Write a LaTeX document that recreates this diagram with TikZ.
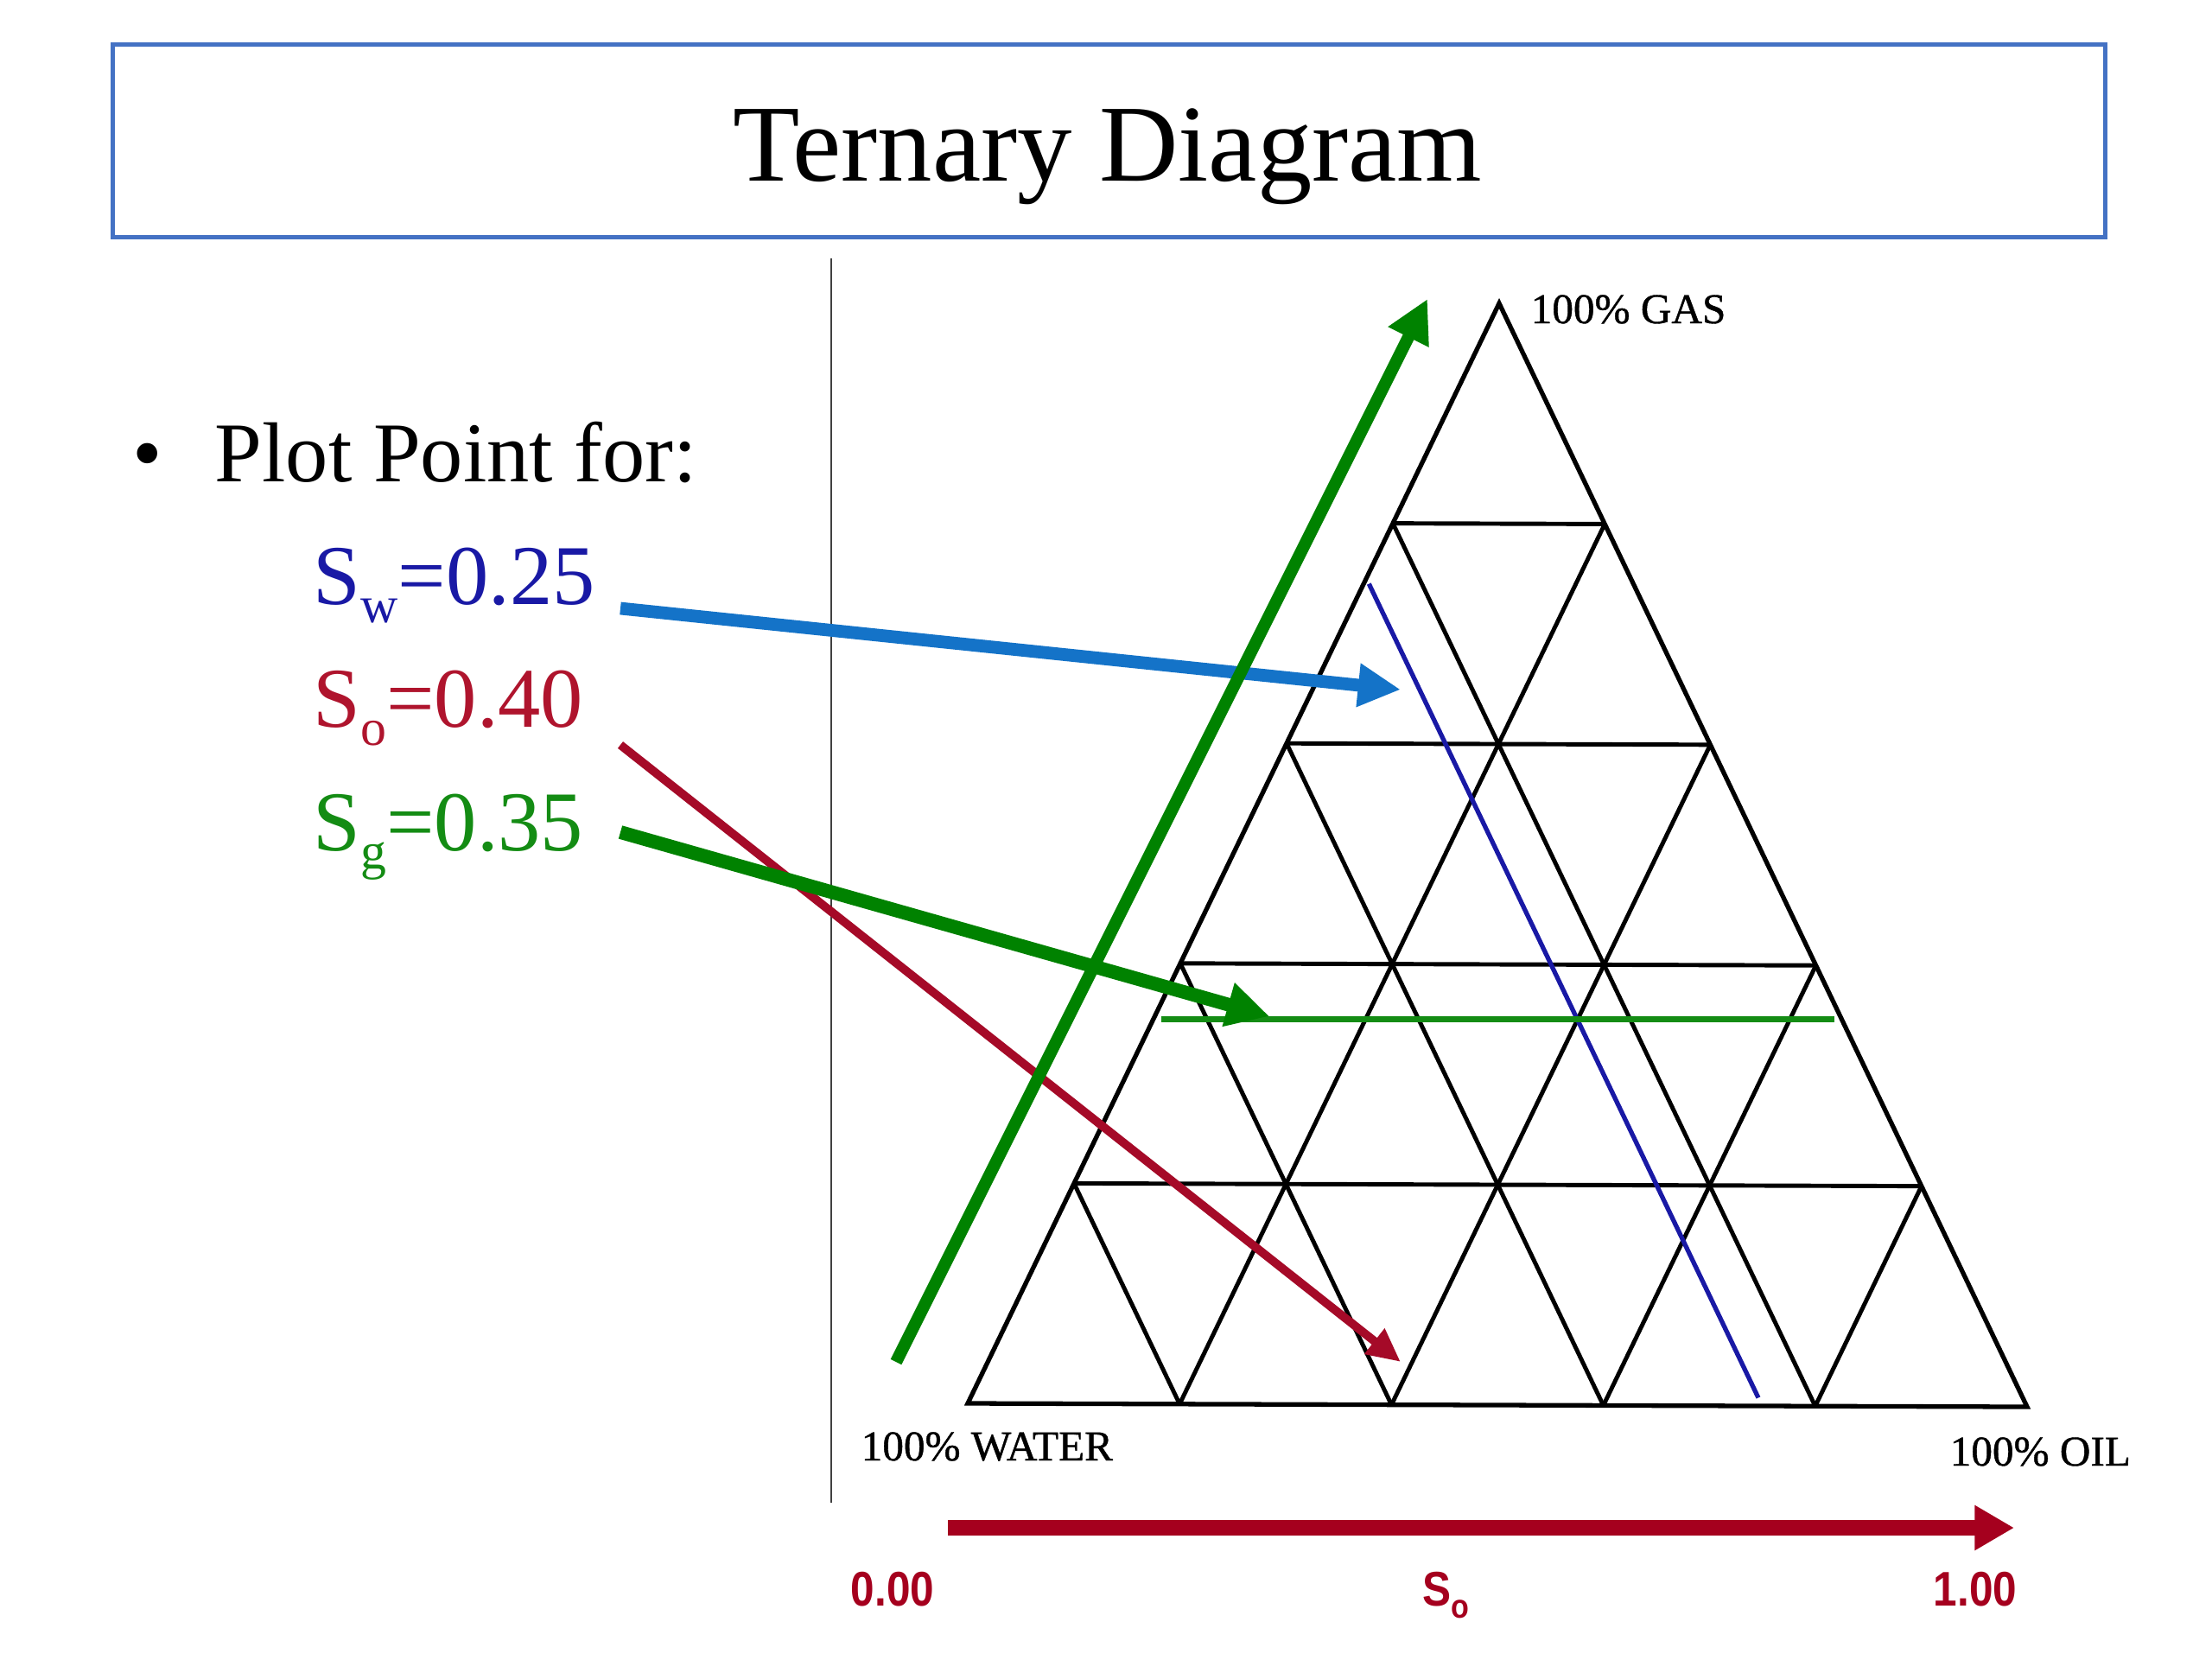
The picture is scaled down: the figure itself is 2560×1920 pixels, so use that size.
\documentclass[tikz,border=0pt]{standalone}
\usepackage{fontspec}
\setmainfont{Liberation Serif}
\newfontfamily\labsans{Liberation Sans}
\newfontfamily\scanfont[FakeBold=0.8]{Liberation Serif}
\usetikzlibrary{arrows.meta,calc}
\definecolor{boxblue}{RGB}{68,114,196}
\definecolor{swblue}{RGB}{25,25,165}
\definecolor{sored}{RGB}{175,20,45}
\definecolor{sggreen}{RGB}{20,140,20}
\definecolor{arrblue}{RGB}{20,115,200}
\definecolor{arrgreen}{RGB}{0,130,0}
\definecolor{arrred}{RGB}{165,10,40}
\definecolor{barred}{RGB}{165,0,30}
\newcommand{\sbs}[1]{\raisebox{-6pt}{\fontsize{17}{17}\selectfont #1}}
\tikzset{
  tri/.style={line width=1.5pt, black, line join=miter},
  gridln/.style={line width=1.4pt, black},
  big/.style={font=\fontsize{28}{32}\selectfont, inner sep=0pt},
  tlab/.style={font=\scanfont\fontsize{14}{16}\selectfont, inner sep=0pt},
  slab/.style={font=\labsans\bfseries\fontsize{16}{18}\selectfont, text=barred, inner sep=0pt, xscale=0.88},
}
\begin{document}
\begin{tikzpicture}[x=0.01cm,y=-0.01cm]
\useasboundingbox (0,0) rectangle (2560,1920);
\fill[white] (0,0) rectangle (2560,1920);

% title
\node[draw=boxblue, line width=1.4pt, minimum width=23.05cm, minimum height=2.22cm, inner sep=0pt] (titlebox) at (1283.5,163) {};
\node[anchor=base, font=\fontsize{36}{40}\selectfont, inner sep=0pt] (title) at (1282,209) {Ternary Diagram};

% divider
\coordinate (divtop) at (962,299);
\coordinate (divbot) at (962,1739);
\draw[black!75, line width=0.6pt] (divtop) -- (divbot);

% left text
\node[big, anchor=base] (bullet) at (171,557) {\textbullet};
\node[big, anchor=base west] (plot) at (248,557) {Plot Point for:};
\node[big, anchor=base west, text=swblue] (sw) at (362,699) {S\sbs{w}=0.25};
\node[big, anchor=base west, text=sored] (so) at (362,841) {S\sbs{o}=0.40};
\node[big, anchor=base west, text=sggreen] (sg) at (362,984) {S\sbs{g}=0.35};

% triangle
\coordinate (W) at (1120,1624);
\coordinate (O) at (2346,1628);
\coordinate (G) at (1735,351);
\foreach \k in {1,2,3,4} {
  \draw[gridln] ($(W)!\k/5!(G)$) -- ($(O)!\k/5!(G)$);
  \draw[gridln] ($(W)!\k/5!(O)$) -- ($(W)!\k/5!(G)$);
  \draw[gridln] ($(O)!\k/5!(W)$) -- ($(O)!\k/5!(G)$);
}
\draw[tri] (W) -- (O) -- (G) -- cycle;

\node[tlab, anchor=base west] (gaslab) at (1771,374) {100\% GAS};
\node[tlab, anchor=base west] (watlab) at (996,1690) {100\% WATER};
\node[tlab, anchor=base west] (oillab) at (2256,1696) {100\% OIL};

% saturation lines
\coordinate (swA) at ($(W)!0.75!(O)$);
\coordinate (swB) at ($(W)!0.75!(G)$);
\draw[swblue, line width=1.5pt, shorten <=3pt, shorten >=2pt] (swA) -- (swB);
\coordinate (sgA) at (1344,1179);
\coordinate (sgB) at (2123,1179);
\draw[sggreen, line width=2pt] (sgA) -- (sgB);

% arrows
\coordinate (swS) at (718,704);
\coordinate (swE) at (1621,798);
\draw[arrblue, line width=4.2pt, -{Triangle[length=14pt,width=13.5pt]}] (swS) -- (swE);
\coordinate (soS) at (718,862);
\coordinate (soE) at (1621,1576);
\draw[arrred, line width=2.8pt, -{Triangle[length=11pt,width=10pt]}] (soS) -- (soE);
\coordinate (sgS) at (718,963);
\coordinate (sgE) at (1469,1176);
\draw[arrgreen, line width=4.5pt, -{Triangle[length=14pt,width=14pt]}] (sgS) -- (sgE);
\coordinate (ggS) at (1037,1576);
\coordinate (ggE) at (1652,346);
\draw[arrgreen, line width=4pt, -{Triangle[length=14pt,width=14pt]}] (ggS) -- (ggE);

% So axis
\coordinate (axS) at (1097,1768);
\coordinate (axE) at (2331,1768);
\draw[barred, line width=5pt, -{Triangle[length=13pt,width=14pt]}] (axS) -- (axE);
\node[slab, anchor=base] (zero) at (1033,1858) {0.00};
\node[slab, anchor=base] (soax) at (1673,1858) {S\raisebox{-4pt}{\fontsize{11}{11}\selectfont o}};
\node[slab, anchor=base] (one) at (2286,1858) {1.00};
\end{tikzpicture}
\end{document}
